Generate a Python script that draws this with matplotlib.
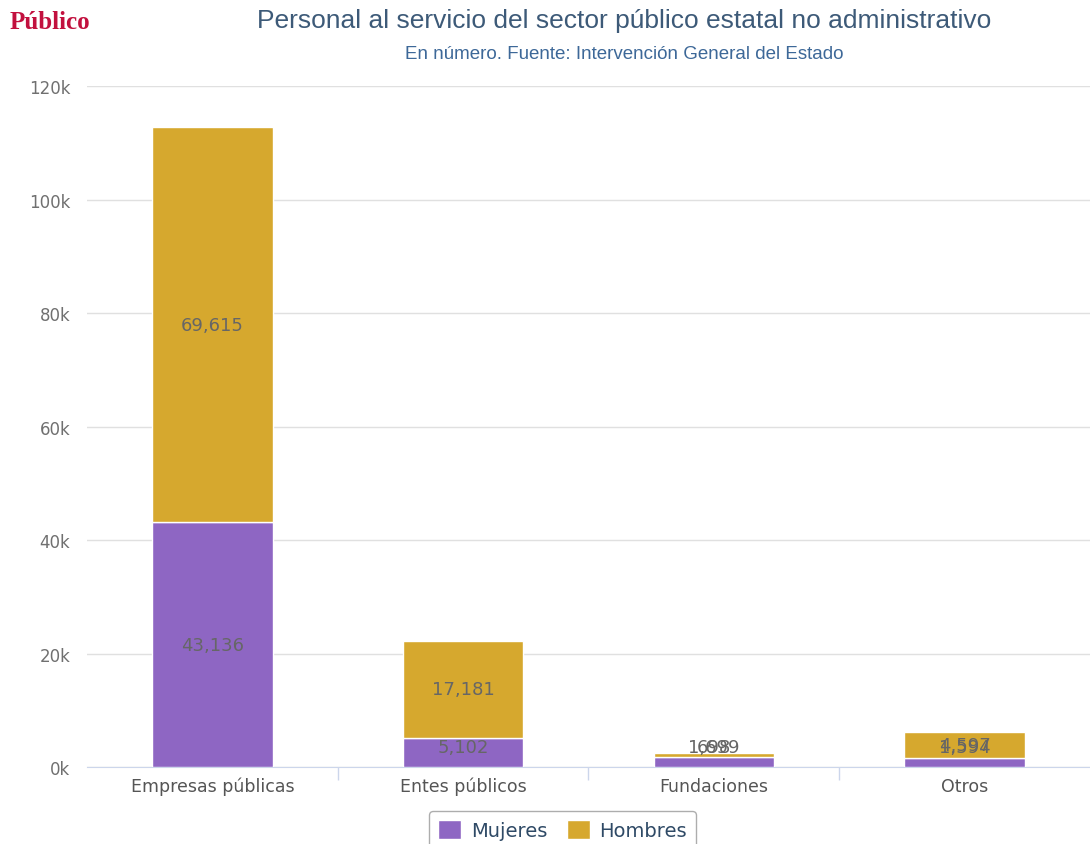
import numpy as np
import matplotlib.pyplot as plt
from matplotlib.ticker import FuncFormatter

# ============= DATA =============
categorias = ["Empresas públicas", "Entes públicos", "Fundaciones", "Otros"]
mujeres = [43136, 5102, 1699, 1594]
hombres = [69615, 17181, 698, 4597]
yticks = [0, 20000, 40000, 60000, 80000, 100000, 120000]

color_mujeres = "#8e66c3"
color_hombres = "#d6a82e"
label_color = "#666666"

# ============= FIGURE =============
fig = plt.figure(figsize=(10.9, 8.45), dpi=100)
ax = fig.add_axes([0.0798, 0.0911, 0.9202, 0.8059])

x = np.arange(len(categorias))
w = 0.48
ax.bar(x, mujeres, width=w, color=color_mujeres, edgecolor="white", linewidth=1, zorder=3, label="Mujeres")
ax.bar(x, hombres, width=w, bottom=mujeres, color=color_hombres, edgecolor="white", linewidth=1, zorder=3, label="Hombres")

# data labels, centred in each segment but kept above the axis line (as in the original)
min_y = 3500
for i in range(len(categorias)):
    for val, base in ((mujeres[i], 0), (hombres[i], mujeres[i])):
        y = max(base + val / 2, min_y)
        ax.text(x[i], y, f"{val:,}", ha="center", va="center", fontsize=13,
                color=label_color, zorder=4, family="DejaVu Sans")

ax.set_xlim(-0.5, len(categorias) - 0.5)
ax.set_ylim(0, 120000)
ax.set_yticks(yticks)
ax.yaxis.set_major_formatter(FuncFormatter(lambda v, p: f"{int(v / 1000)}k"))
ax.grid(axis="y", color="#e0e0e0", linewidth=1, zorder=0)
ax.tick_params(axis="y", length=0, pad=12, labelsize=12, labelcolor="#707070")

ax.set_xticks(x)
ax.set_xticklabels(categorias, fontsize=12.5, color="#555555")
ax.tick_params(axis="x", length=0, pad=7)
ax.set_xticks(np.arange(0.5, len(categorias) - 0.5, 1), minor=True)
ax.tick_params(axis="x", which="minor", length=9, color="#ccd6eb", width=1)

for s in ["top", "right", "left"]:
    ax.spines[s].set_visible(False)
ax.spines["bottom"].set_color("#ccd6eb")

# ============= TITLES =============
fig.text(0.573, 0.975, "Personal al servicio del sector público estatal no administrativo",
         ha="center", va="center", fontsize=19, color="#3d5a78", family="Liberation Sans")
fig.text(0.573, 0.935, "En número. Fuente: Intervención General del Estado",
         ha="center", va="center", fontsize=13.5, color="#3d6898", family="Liberation Sans")
fig.text(0.009, 0.973, "Público", ha="left", va="center", fontsize=18, fontweight="bold",
         color="#c2103e", family="Liberation Serif")

# ============= LEGEND =============
leg = fig.legend(loc="upper center", bbox_to_anchor=(0.516, 0.050), ncol=2, frameon=True,
                 fancybox=True, fontsize=14, handlelength=1.2, handleheight=1.1,
                 columnspacing=1.0, handletextpad=0.5, borderpad=0.45, edgecolor="#999999")
leg.get_frame().set_linewidth(1)
for t in leg.get_texts():
    t.set_color("#2f4a66")

fig.savefig("out.png", dpi=100)
